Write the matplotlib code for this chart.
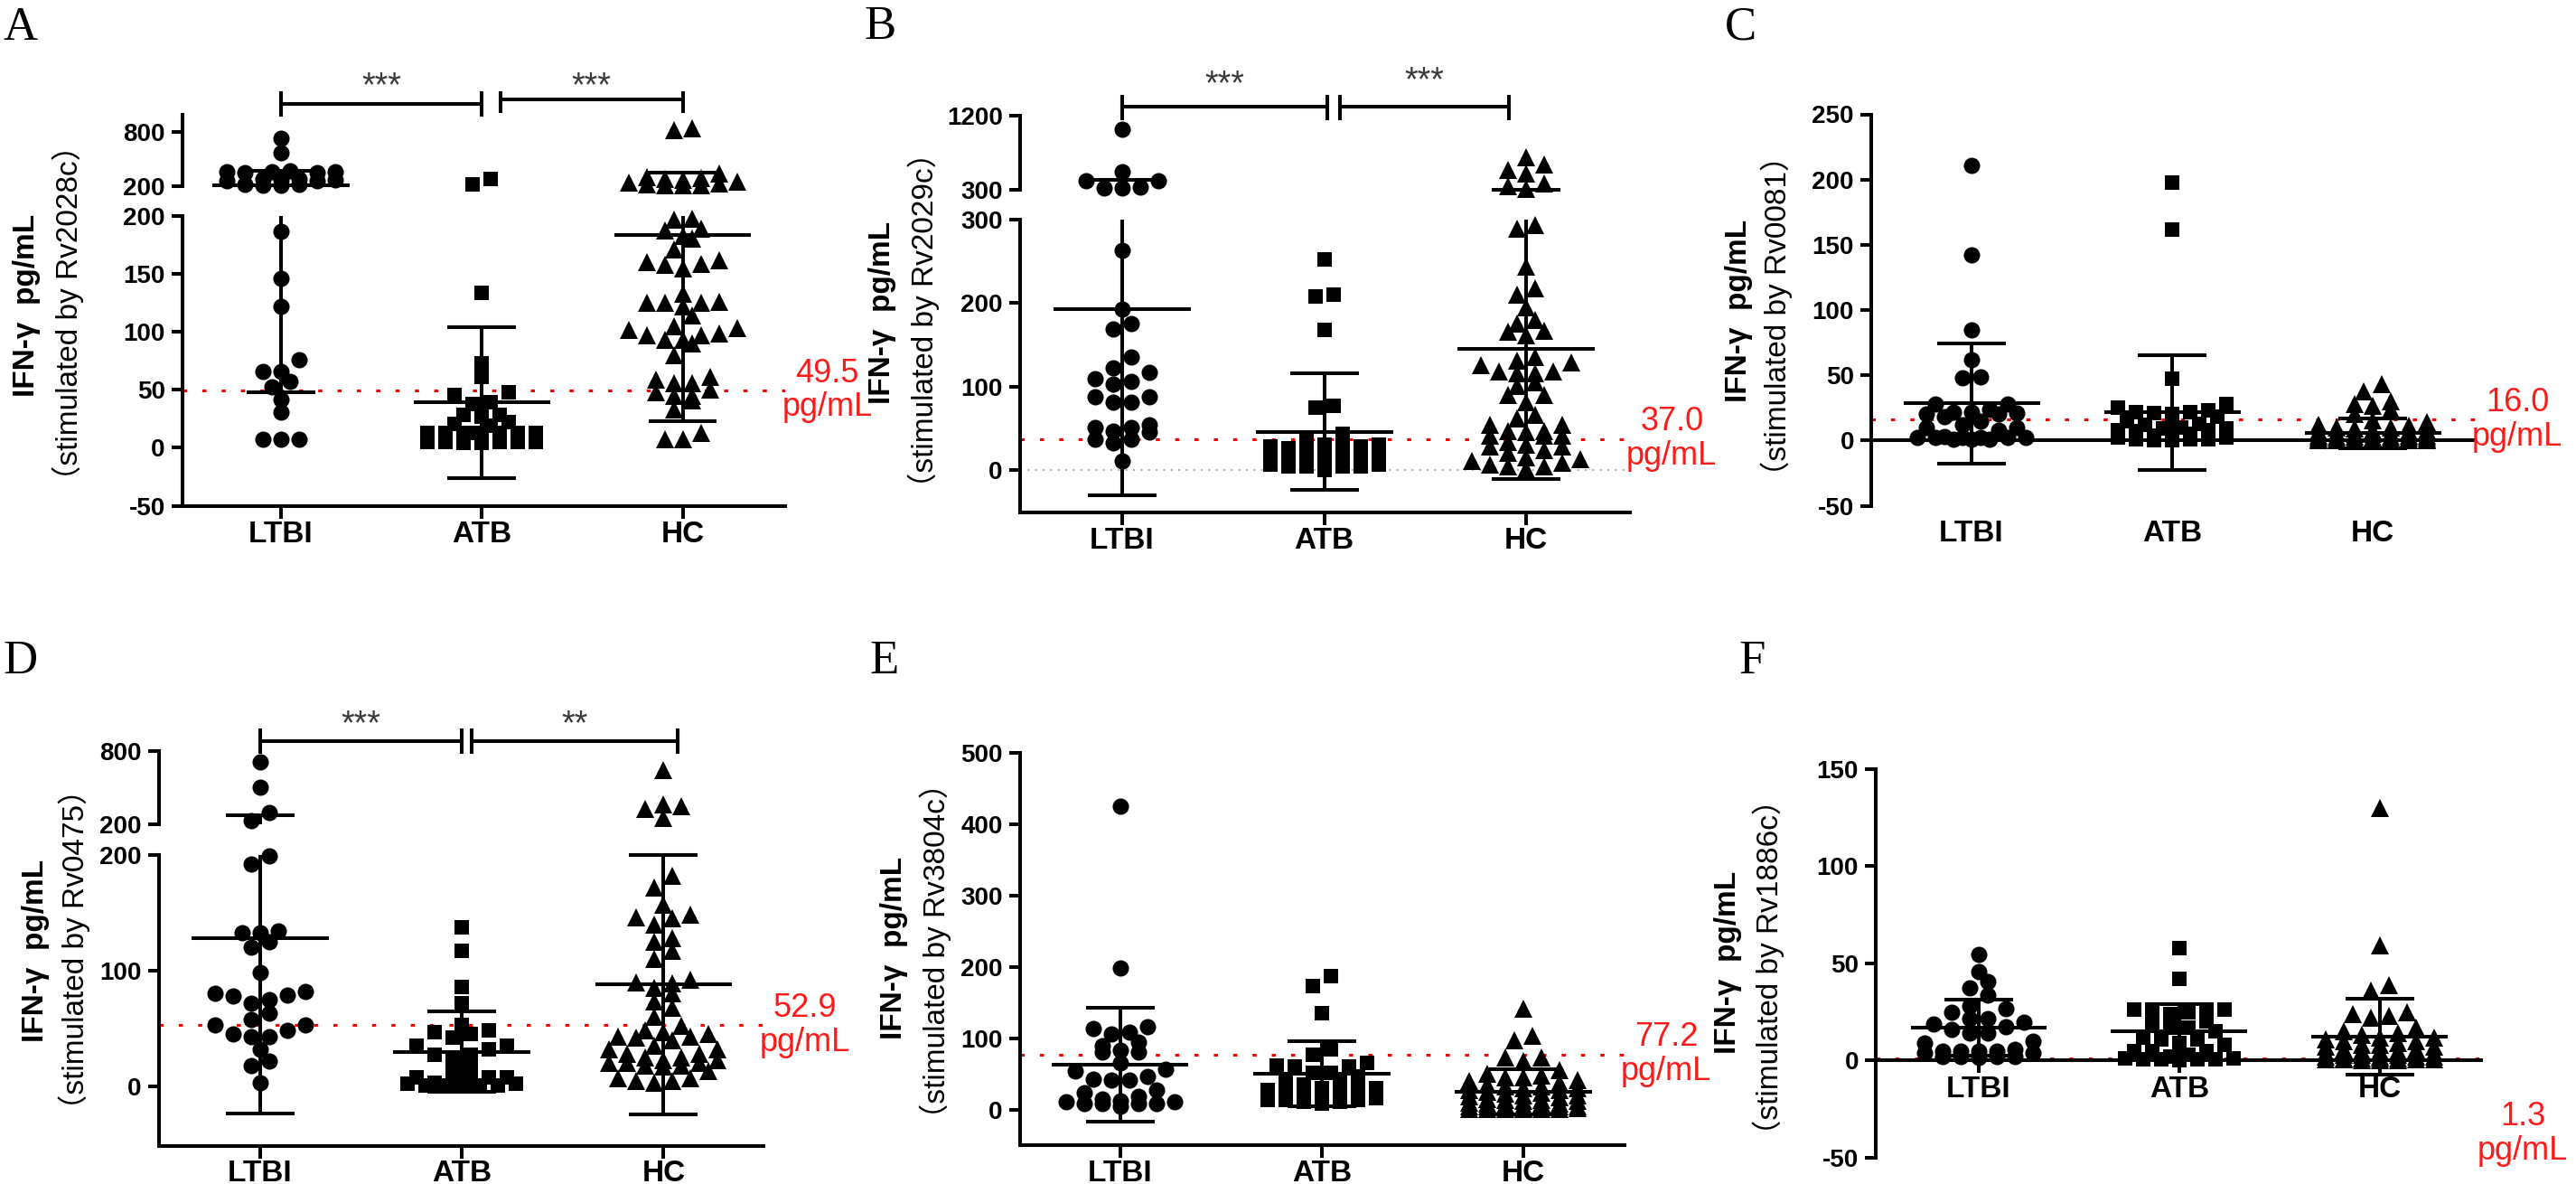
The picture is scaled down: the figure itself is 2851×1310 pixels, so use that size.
import numpy as np
import matplotlib
matplotlib.use("Agg")
import matplotlib.pyplot as plt
from matplotlib import transforms

# ---------------- data ----------------
group_names = ["LTBI", "ATB", "HC"]
panel_letters = ["A", "B", "C", "D", "E", "F"]
antigens = ["Rv2028c", "Rv2029c", "Rv0081", "Rv0475", "Rv3804c", "Rv1886c"]
cutoffs = [49.5, 37.0, 16.0, 52.9, 77.2, 1.3]

# Panel A  (Rv2028c)
a_ltbi = [735, 573, 370, 362, 358, 355, 350, 345, 280, 272, 268, 262, 258, 252, 218, 212, 208, 205,
          187, 146, 122, 76, 66, 66, 57, 53, 42, 31, 7, 7, 7]
a_atb = [280, 212, 133.5, 73, 61, 48, 46, 39, 38, 28.5, 28.5, 27, 22, 21, 19,
         13, 13, 13, 13, 13, 13, 13, 5, 5, 5, 5, 4, 4, 5, 8]
a_hc = [840, 820, 340, 300, 290, 280, 270, 250, 240, 230, 215, 210, 205, 205,
        198, 197, 189, 188, 183, 181, 171, 162, 160, 159, 158, 155, 133, 126, 125.6, 125, 125, 122, 114,
        105, 103, 102, 99, 97, 97, 93, 93, 90, 80, 61, 59, 56, 56, 50, 48, 45, 45, 41, 33, 13, 7, 7]
means_a = [206, 39, 184]
sds_a = [158, 65, 161]
sig_a = ["***", "***"]

# Panel B  (Rv2029c)
b_ltbi = [1040, 516, 408, 408, 330, 318, 318,
          263.6, 193, 176, 169, 135, 122, 117, 103, 109, 106, 88, 81, 81, 88, 51, 45, 54, 47, 51,
          37, 32, 37, 11]
b_atb = [252, 208, 210, 168, 75, 77, 43, 37, 30, 28, 26, 28, 26, 30, 15, 17, 19, 17, 19, 15, 17,
         11, 12, 6, 4, 4, 0.5, 4, 4, 6]
b_hc = [695, 610, 540, 500, 370, 345, 305,
        294, 289, 244, 218, 210, 195, 180, 176, 167, 166, 161, 135, 131, 129, 126, 118, 118, 116, 116,
        105, 101, 90, 90, 81, 66, 62, 54, 54, 47, 47, 45, 41, 41, 41, 34, 30, 28, 28, 24, 21, 15, 13,
        11, 9, 6, 4, 4, 1]
means_b = [193, 46, 145]
sds_b = [223, 70, 156]
sig_b = ["***", "***"]

# Panel C  (Rv0081)
c_ltbi = [211, 142, 85, 62, 49, 48, 28, 28, 24, 22, 22, 21, 20, 20, 18, 15, 12, 10, 10, 8,
          3, 2, 2, 2, 2, 2, 2, 1, 1, 1]
c_atb = [198, 162, 47, 28, 25, 23, 22, 22, 21, 20, 18, 15, 13, 12, 10, 9, 9, 8, 8, 7,
         5, 4, 3, 2, 2, 1, 1, 1, 0.5, 0.5]
c_hc = [43, 37.5, 30, 28, 26.5, 24, 20, 15.6, 14, 12, 11, 10, 10, 9, 8, 8, 7, 7, 6, 6, 5, 5,
        4, 4, 4, 3, 3, 3, 2, 2, 2, 2, 1.5, 1.5, 1, 1, 1, 1, 0.5, 0.5, 0.5, 0.5, 0.3, 0.3,
        0.2, 0.2, 0.1, 0.1, 0, 0]
means_c = [28.5, 21.6, 5.5]
sds_c = [46, 44, 11.5]

# Panel D  (Rv0475)
d_ltbi = [712, 506, 301, 228,
          199, 192, 134, 133, 133, 125, 120, 98, 82, 79, 75, 78, 72, 80, 63, 58, 53, 53, 48, 45,
          43, 43, 32, 22, 18, 3]
d_atb = [137, 117, 86, 72, 53, 47, 45, 48, 42, 35, 27, 35, 32, 25, 27, 15, 13, 8, 8, 8,
         3, 2, 0.5, 2, 0.5, 2, 2, 1, 1, 1]
d_hc = [642, 364, 348, 326, 254,
        182, 172, 157, 148, 146, 145, 140, 128, 125, 117, 110, 92, 90, 89, 85, 80, 73, 68, 60, 52,
        48, 47, 45, 43, 43, 42, 40, 35, 32, 32, 28, 28, 25, 25, 23, 23, 20, 20, 20, 18, 18, 17,
        13, 7, 7, 5, 5, 3]
means_d = [128, 30, 88]
sds_d = [151, 35, 112]
sig_d = ["***", "**"]

# Panel E  (Rv3804c)
e_ltbi = [425, 199, 116, 114, 108, 106, 95, 89, 83, 81, 81, 65, 57, 54, 46, 43, 41, 41, 27, 24,
          11, 11, 8, 8, 8, 8, 5, 15, 18, 12]
e_atb = [187, 173, 135, 84, 77, 65, 62, 60, 60, 51, 51, 46, 43, 41, 30, 30, 27, 27, 27, 24, 24,
         16, 13, 13, 13, 11, 11, 8, 20, 35]
e_hc = [141, 103, 97, 73, 73, 68, 55, 50, 48, 45, 45, 42, 40, 38, 35, 33, 32, 30, 30, 28, 27,
        25, 24, 22, 20, 20, 18, 17, 15, 14, 13, 12, 12, 10, 9, 8, 8, 7, 6, 5, 5, 4, 4, 3, 3,
        2, 2, 1, 1, 1, 0.5, 0.5, 0.5]
means_e = [63, 50, 25]
sds_e = [80, 46, 32]

# Panel F  (Rv1886c)
f_ltbi = [54.5, 45.6, 40.6, 37.6, 33.7, 28, 26.7, 24.8, 21.8, 21.8, 19.8, 18.8, 17.4, 16, 14, 14,
          10, 9, 6, 5, 5, 4, 5, 5, 4, 2, 2, 2, 1.5, 2]
f_atb = [58, 42, 26, 25, 24, 25, 26, 25, 20, 18, 17, 17, 15, 12, 11, 11, 8, 9, 5, 5, 5,
         1, 0.5, 0.5, 0.2, 0.5, 0.5, 1, 3, 2]
f_hc = [130, 59, 38.6, 36, 25, 24, 23, 22, 17, 15, 14, 13, 12, 12, 11, 10, 10, 9, 8, 8, 7, 7,
        6, 6, 5, 5, 5, 4, 4, 4, 3, 3, 3, 2, 2, 2, 2, 1, 1, 1, 1, 0.5, 0.5, 0.5, 0.5, 0.2, 0.2, 0.2]
means_f = [16.8, 15, 12.3]
sds_f = [14.5, 14, 19.5]

# y tick labels
ticks_a_low, ticks_a_up = [-50, 0, 50, 100, 150, 200], [200, 800]
ticks_b_low, ticks_b_up = [0, 100, 200, 300], [300, 1200]
ticks_c = [-50, 0, 50, 100, 150, 200, 250]
ticks_d_low, ticks_d_up = [0, 100, 200], [200, 800]
ticks_e = [0, 100, 200, 300, 400, 500]
ticks_f = [-50, 0, 50, 100, 150]

# ---------------- layout / style (pixel geometry) ----------------
layouts = [
    dict(l=201.8, r=869.4, low=(239.2, 559.5, -50, 200), up=(126.5, 205.6, 200, 1000),
         xlim=(-0.491, 2.512), xmode="bottom", xpad=2, letter=(3, 43.5),
         ylab=((30, 338), (75, 346)), cut_dy=0,
         brackets=[(0, 1.0, 114.7, 100.8, 128.5, 85), (1.093, 2.0, 110, 100.8, 124.5, 85)]),
    dict(l=1128.7, r=1804.3, low=(243.2, 567.4, -51.4, 300), up=(128.5, 209.6, 300, 1200),
         xlim=(-0.507, 2.515), xmode="bottom", xpad=1, letter=(956, 43),
         ylab=((977, 346), (1022.7, 354)), cut_dy=0, zero_gray=True,
         brackets=[(0, 1.017, 117.8, 104.8, 132.5, 83), (1.078, 1.913, 117.8, 104.8, 132.5, 79)]),
    dict(l=2071, r=2740, low=(126.5, 559.5, -50, 250), up=None,
         xlim=(-0.5, 2.513), xmode="zero_line", xpad=11.5, letter=(1909, 43.5),
         ylab=((1924, 344), (1966.7, 349)), cut_dy=0, brackets=[]),
    dict(l=175.7, r=845.2, low=(945.6, 1268.2, -51.6, 200), up=(831, 912.2, 200, 800),
         xlim=(-0.502, 2.496), xmode="bottom", xpad=0.5, letter=(3, 745),
         ylab=((39.4, 1052), (81.8, 1050)), cut_dy=0,
         brackets=[(0, 1.0, 819.5, 805.8, 834.4, 790.4), (1.05, 2.07, 819.5, 805.8, 834.4, 790.4)]),
    dict(l=1128.7, r=1798.2, low=(833.2, 1267.4, -50.4, 500), up=None,
         xlim=(-0.497, 2.503), xmode="bottom", xpad=1, letter=(962, 745),
         ylab=((989.4, 1049), (1034.8, 1052)), cut_dy=0, brackets=[]),
    dict(l=2075.9, r=2746, low=(850.7, 1281, -50, 150), up=None,
         xlim=(-0.514, 2.505), xmode="zero_spine", xpad=2, letter=(1924, 745),
         ylab=((1912, 1065), (1957.6, 1069.5)), cut_dy=-84, brackets=[]),
]

panel_data = [
    dict(values=[a_ltbi, a_atb, a_hc], means=means_a, sds=sds_a, sig=sig_a,
         ticks_low=ticks_a_low, ticks_up=ticks_a_up),
    dict(values=[b_ltbi, b_atb, b_hc], means=means_b, sds=sds_b, sig=sig_b,
         ticks_low=ticks_b_low, ticks_up=ticks_b_up),
    dict(values=[c_ltbi, c_atb, c_hc], means=means_c, sds=sds_c, sig=[],
         ticks_low=ticks_c, ticks_up=None),
    dict(values=[d_ltbi, d_atb, d_hc], means=means_d, sds=sds_d, sig=sig_d,
         ticks_low=ticks_d_low, ticks_up=ticks_d_up),
    dict(values=[e_ltbi, e_atb, e_hc], means=means_e, sds=sds_e, sig=[],
         ticks_low=ticks_e, ticks_up=None),
    dict(values=[f_ltbi, f_atb, f_hc], means=means_f, sds=sds_f, sig=[],
         ticks_low=ticks_f, ticks_up=None),
]

W, H, DPI = 2851, 1310, 100
fig = plt.figure(figsize=(W / DPI, H / DPI), dpi=DPI)
fig.patch.set_facecolor("white")
PIX = transforms.Affine2D().scale(1.0 / W, -1.0 / H).translate(0, 1) + fig.transFigure
LW = 2.9
SANS = "Liberation Sans"
MARKERS = ["o", "s", "^"]
MSIZES = [13, 12, 14]


def px2pt(p):
    return p * 72.0 / DPI


def make_ax(l, r, t, b, ylim, xlim, ticks, spine_zero=False):
    ax = fig.add_axes([l / W, 1 - b / H, (r - l) / W, (b - t) / H])
    ax.patch.set_alpha(0)
    ax.set_xlim(*xlim)
    ax.set_ylim(*ylim)
    ax.spines["top"].set_visible(False)
    ax.spines["right"].set_visible(False)
    ax.spines["left"].set_linewidth(LW)
    ax.spines["bottom"].set_linewidth(LW)
    if spine_zero:
        ax.spines["bottom"].set_position(("data", 0))
    ax.set_yticks(ticks, labels=[str(t) for t in ticks], fontsize=20,
                  fontweight="bold", family=SANS)
    ax.tick_params(axis="y", direction="out", length=px2pt(12), width=LW, pad=px2pt(7))
    return ax


def swarm(ax, vals, dx_px=20.0, row_px=13.0, max_n=7):
    v = np.sort(np.asarray(vals, float))
    ypx = ax.transData.transform(np.column_stack([np.zeros_like(v), v]))[:, 1]
    x0 = ax.transData.transform([[0, 0]])[0, 0]
    x1 = ax.transData.transform([[1, 0]])[0, 0]
    dx = dx_px / (x1 - x0)
    rows, cur = [], []
    for k in range(len(v)):
        if cur and (ypx[k] - ypx[cur[0]] < row_px) and len(cur) < max_n:
            cur.append(k)
        else:
            if cur:
                rows.append(cur)
            cur = [k]
    if cur:
        rows.append(cur)
    offs = np.zeros(len(v))
    for r in rows:
        m = len(r)
        slots = (np.arange(m) - (m - 1) / 2.0) * dx
        slot_order = np.argsort(np.abs(slots) + 1e-6 * np.arange(m), kind="stable")
        for idx, s in zip(r, slot_order):
            offs[idx] = slots[s]
    return v, offs


for i, (lay, pdat) in enumerate(zip(layouts, panel_data)):
    lt, lb, ly0, ly1 = lay["low"]
    low = make_ax(lay["l"], lay["r"], lt, lb, (ly0, ly1), lay["xlim"], pdat["ticks_low"],
                  spine_zero=(lay["xmode"] == "zero_spine"))
    up = None
    if lay["up"] is not None:
        ut, ub, uy0, uy1 = lay["up"]
        up = make_ax(lay["l"], lay["r"], ut, ub, (uy0, uy1), lay["xlim"], pdat["ticks_up"])
        up.spines["bottom"].set_visible(False)
        up.tick_params(axis="x", bottom=False, labelbottom=False)

    # x axis
    low.set_xticks([0, 1, 2], labels=group_names, fontsize=24, fontweight="bold", family=SANS)
    if lay["xmode"] == "zero_line":
        low.spines["bottom"].set_visible(False)
        low.axhline(0, color="k", lw=LW, zorder=2.5)
        low.tick_params(axis="x", length=0, pad=lay["xpad"])
    else:
        low.tick_params(axis="x", direction="out", length=px2pt(14), width=LW, pad=lay["xpad"])

    # reference lines
    if lay.get("zero_gray"):
        low.axhline(0, color="#b0b0b0", lw=1.5, ls=(0, (1, 3)), zorder=1)
    cut = cutoffs[i]
    low.axhline(cut, color="#ff0000", lw=2.2, ls=(0, (1.5, 5.5)), zorder=2)
    low.annotate(f"{cut:.1f}\npg/mL", xy=(1, cut), xycoords=("axes fraction", "data"),
                 xytext=(px2pt(46), px2pt(lay["cut_dy"])), textcoords="offset points",
                 ha="center", va="center", color="#ff1a1a", fontsize=26, family=SANS,
                 linespacing=1.1, annotation_clip=False)

    axes_list = [low] + ([up] if up is not None else [])
    for gi, vals in enumerate(pdat["values"]):
        vals = np.asarray(vals, float)
        split = ly1
        for ax, sel in ((low, vals <= split), (up, vals > split)):
            if ax is None or not sel.any():
                continue
            v, off = swarm(ax, vals[sel])
            ax.plot(gi + off, v, ls="none", marker=MARKERS[gi], ms=MSIZES[gi], color="k",
                    mew=0, clip_on=False, zorder=3)
        m, s = pdat["means"][gi], pdat["sds"][gi]
        for ax in axes_list:
            lo, hi = ax.get_ylim()
            is_up = ax is up

            def inside(y, lo=lo, hi=hi, is_up=is_up):
                return (lo < y <= hi) if is_up else (lo <= y <= hi)

            a, b = max(m - s, lo), min(m + s, hi)
            if a < b:
                ax.plot([gi, gi], [a, b], color="k", lw=LW, clip_on=False,
                        solid_capstyle="butt", zorder=4)
            if inside(m):
                ax.plot([gi - 0.34, gi + 0.34], [m, m], color="k", lw=LW, clip_on=False,
                        solid_capstyle="butt", zorder=4)
            for c in (m - s, m + s):
                if inside(c):
                    ax.plot([gi - 0.17, gi + 0.17], [c, c], color="k", lw=LW, clip_on=False,
                            solid_capstyle="butt", zorder=4)

    # significance brackets
    top_ax = up if up is not None else low
    bt = transforms.blended_transform_factory(top_ax.transData, PIX)
    star_em = 27 * DPI / 72.0
    for (x0, x1, yb, ytop, ybot, sy), txt in zip(lay["brackets"], pdat["sig"]):
        top_ax.plot([x0, x1], [yb, yb], color="k", lw=LW, transform=bt, clip_on=False,
                    solid_capstyle="butt")
        for x in (x0, x1):
            top_ax.plot([x, x], [ytop, ybot], color="k", lw=LW, transform=bt, clip_on=False,
                        solid_capstyle="butt")
        top_ax.text((x0 + x1) / 2.0, sy + 0.575 * star_em, txt, transform=bt, ha="center",
                    va="baseline", fontsize=27, color="#3a3a3a", family=SANS)

    # y labels
    (x1p, y1p), (x2p, y2p) = lay["ylab"]
    fig.text(x1p / W, 1 - y1p / H, "IFN-γ  pg/mL", rotation=90, ha="center", va="center",
             fontsize=24, fontweight="bold", family=SANS)
    fig.text(x2p / W, 1 - y2p / H, f"（stimulated by {antigens[i]}）", rotation=90,
             ha="center", va="center", fontsize=24, family=[SANS, "Noto Sans CJK SC"])

    # panel letter
    lx, lyb = lay["letter"]
    fig.text(lx / W, 1 - lyb / H, panel_letters[i], ha="left", va="baseline",
             fontsize=38, family="Liberation Serif")

fig.savefig("out.png", dpi=DPI)
